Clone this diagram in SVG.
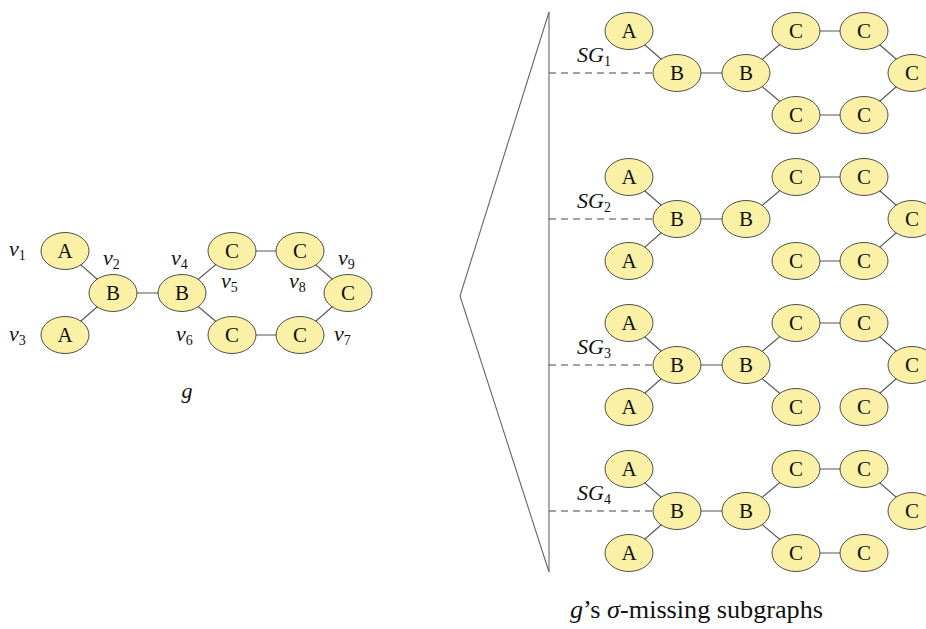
<svg xmlns="http://www.w3.org/2000/svg" width="926" height="629" viewBox="0 0 926 629" font-family="'Liberation Serif', 'Times New Roman', serif">
<style>
.n use{fill:#faf0a6;stroke:#3a3a3a;stroke-width:0.9}
.n text{font-family:'Liberation Serif','Times New Roman',serif;font-size:21px;text-anchor:middle;fill:#111}
.e line{stroke:#555;stroke-width:1.1}
.e line.d{stroke:#444;stroke-width:1.1;stroke-dasharray:7 5}
.fr{fill:none;stroke:#666;stroke-width:1.1}
.lb{font-family:'Liberation Serif','Times New Roman',serif;font-size:22px;font-style:italic;fill:#111}
.sub{font-size:14px;font-style:normal}
.cap{font-family:'Liberation Serif','Times New Roman',serif;font-size:25px;fill:#111}
</style>
<defs>
<ellipse id="el" cx="0" cy="0" rx="24" ry="18.5"/>
</defs>

<!-- frame (zoom triangle) -->
<g id="frame">
<polyline class="fr" points="549,12 460,296 549,572"/>
<line class="fr" x1="549" y1="12" x2="549" y2="572"/>
</g>

<!-- connectors -->
<g id="connectors" class="e">
<!-- left graph g -->
<line x1="65" y1="251" x2="113" y2="293"/>
<line x1="65" y1="335" x2="113" y2="293"/>
<line x1="113" y1="293" x2="182" y2="293"/>
<line x1="182" y1="293" x2="232" y2="251"/>
<line x1="232" y1="251" x2="300" y2="251"/>
<line x1="300" y1="251" x2="348" y2="293"/>
<line x1="348" y1="293" x2="300" y2="335"/>
<line x1="300" y1="335" x2="232" y2="335"/>
<line x1="232" y1="335" x2="182" y2="293"/>
<!-- SG1 -->
<line x1="629" y1="31" x2="677" y2="73"/>
<line x1="677" y1="73" x2="746" y2="73"/>
<line x1="746" y1="73" x2="796" y2="31"/>
<line x1="796" y1="31" x2="864" y2="31"/>
<line x1="864" y1="31" x2="912" y2="73"/>
<line x1="912" y1="73" x2="864" y2="115"/>
<line x1="864" y1="115" x2="796" y2="115"/>
<line x1="796" y1="115" x2="746" y2="73"/>
<!-- SG2 -->
<line x1="629" y1="177" x2="677" y2="219"/>
<line x1="629" y1="261" x2="677" y2="219"/>
<line x1="677" y1="219" x2="746" y2="219"/>
<line x1="746" y1="219" x2="796" y2="177"/>
<line x1="796" y1="177" x2="864" y2="177"/>
<line x1="864" y1="177" x2="912" y2="219"/>
<line x1="912" y1="219" x2="864" y2="261"/>
<line x1="864" y1="261" x2="796" y2="261"/>
<!-- SG3 -->
<line x1="629" y1="323" x2="677" y2="365"/>
<line x1="629" y1="407" x2="677" y2="365"/>
<line x1="677" y1="365" x2="746" y2="365"/>
<line x1="746" y1="365" x2="796" y2="323"/>
<line x1="796" y1="323" x2="864" y2="323"/>
<line x1="864" y1="323" x2="912" y2="365"/>
<line x1="912" y1="365" x2="864" y2="407"/>
<line x1="796" y1="407" x2="746" y2="365"/>
<!-- SG4 -->
<line x1="629" y1="469" x2="677" y2="511"/>
<line x1="629" y1="553" x2="677" y2="511"/>
<line x1="677" y1="511" x2="746" y2="511"/>
<line x1="746" y1="511" x2="796" y2="469"/>
<line x1="796" y1="469" x2="864" y2="469"/>
<line x1="864" y1="469" x2="912" y2="511"/>
<line x1="864" y1="553" x2="796" y2="553"/>
<line x1="796" y1="553" x2="746" y2="511"/>
<!-- dashed pointers -->
<line class="d" x1="549" y1="73" x2="653" y2="73"/>
<line class="d" x1="549" y1="219" x2="653" y2="219"/>
<line class="d" x1="549" y1="365" x2="653" y2="365"/>
<line class="d" x1="549" y1="511" x2="653" y2="511"/>
</g>

<!-- left graph nodes -->
<g id="g-v1" class="n" transform="translate(65,251)"><use href="#el"/><text y="7">A</text></g>
<g id="g-v2" class="n" transform="translate(113,293)"><use href="#el"/><text y="7">B</text></g>
<g id="g-v3" class="n" transform="translate(65,335)"><use href="#el"/><text y="7">A</text></g>
<g id="g-v4" class="n" transform="translate(182,293)"><use href="#el"/><text y="7">B</text></g>
<g id="g-v5" class="n" transform="translate(232,251)"><use href="#el"/><text y="7">C</text></g>
<g id="g-v8" class="n" transform="translate(300,251)"><use href="#el"/><text y="7">C</text></g>
<g id="g-v9" class="n" transform="translate(348,293)"><use href="#el"/><text y="7">C</text></g>
<g id="g-v7" class="n" transform="translate(300,335)"><use href="#el"/><text y="7">C</text></g>
<g id="g-v6" class="n" transform="translate(232,335)"><use href="#el"/><text y="7">C</text></g>

<!-- SG1 nodes -->
<g id="sg1-a1" class="n" transform="translate(629,31)"><use href="#el"/><text y="7">A</text></g>
<g id="sg1-b2" class="n" transform="translate(677,73)"><use href="#el"/><text y="7">B</text></g>
<g id="sg1-b4" class="n" transform="translate(746,73)"><use href="#el"/><text y="7">B</text></g>
<g id="sg1-c5" class="n" transform="translate(796,31)"><use href="#el"/><text y="7">C</text></g>
<g id="sg1-c8" class="n" transform="translate(864,31)"><use href="#el"/><text y="7">C</text></g>
<g id="sg1-c9" class="n" transform="translate(912,73)"><use href="#el"/><text y="7">C</text></g>
<g id="sg1-c7" class="n" transform="translate(864,115)"><use href="#el"/><text y="7">C</text></g>
<g id="sg1-c6" class="n" transform="translate(796,115)"><use href="#el"/><text y="7">C</text></g>

<!-- SG2 nodes -->
<g id="sg2-a1" class="n" transform="translate(629,177)"><use href="#el"/><text y="7">A</text></g>
<g id="sg2-b2" class="n" transform="translate(677,219)"><use href="#el"/><text y="7">B</text></g>
<g id="sg2-a3" class="n" transform="translate(629,261)"><use href="#el"/><text y="7">A</text></g>
<g id="sg2-b4" class="n" transform="translate(746,219)"><use href="#el"/><text y="7">B</text></g>
<g id="sg2-c5" class="n" transform="translate(796,177)"><use href="#el"/><text y="7">C</text></g>
<g id="sg2-c8" class="n" transform="translate(864,177)"><use href="#el"/><text y="7">C</text></g>
<g id="sg2-c9" class="n" transform="translate(912,219)"><use href="#el"/><text y="7">C</text></g>
<g id="sg2-c7" class="n" transform="translate(864,261)"><use href="#el"/><text y="7">C</text></g>
<g id="sg2-c6" class="n" transform="translate(796,261)"><use href="#el"/><text y="7">C</text></g>

<!-- SG3 nodes -->
<g id="sg3-a1" class="n" transform="translate(629,323)"><use href="#el"/><text y="7">A</text></g>
<g id="sg3-b2" class="n" transform="translate(677,365)"><use href="#el"/><text y="7">B</text></g>
<g id="sg3-a3" class="n" transform="translate(629,407)"><use href="#el"/><text y="7">A</text></g>
<g id="sg3-b4" class="n" transform="translate(746,365)"><use href="#el"/><text y="7">B</text></g>
<g id="sg3-c5" class="n" transform="translate(796,323)"><use href="#el"/><text y="7">C</text></g>
<g id="sg3-c8" class="n" transform="translate(864,323)"><use href="#el"/><text y="7">C</text></g>
<g id="sg3-c9" class="n" transform="translate(912,365)"><use href="#el"/><text y="7">C</text></g>
<g id="sg3-c7" class="n" transform="translate(864,407)"><use href="#el"/><text y="7">C</text></g>
<g id="sg3-c6" class="n" transform="translate(796,407)"><use href="#el"/><text y="7">C</text></g>

<!-- SG4 nodes -->
<g id="sg4-a1" class="n" transform="translate(629,469)"><use href="#el"/><text y="7">A</text></g>
<g id="sg4-b2" class="n" transform="translate(677,511)"><use href="#el"/><text y="7">B</text></g>
<g id="sg4-a3" class="n" transform="translate(629,553)"><use href="#el"/><text y="7">A</text></g>
<g id="sg4-b4" class="n" transform="translate(746,511)"><use href="#el"/><text y="7">B</text></g>
<g id="sg4-c5" class="n" transform="translate(796,469)"><use href="#el"/><text y="7">C</text></g>
<g id="sg4-c8" class="n" transform="translate(864,469)"><use href="#el"/><text y="7">C</text></g>
<g id="sg4-c9" class="n" transform="translate(912,511)"><use href="#el"/><text y="7">C</text></g>
<g id="sg4-c7" class="n" transform="translate(864,553)"><use href="#el"/><text y="7">C</text></g>
<g id="sg4-c6" class="n" transform="translate(796,553)"><use href="#el"/><text y="7">C</text></g>

<!-- vertex labels -->
<g id="labels">
<text class="lb" x="9" y="256">v<tspan class="sub" dy="4">1</tspan></text>
<text class="lb" x="103" y="265">v<tspan class="sub" dy="4">2</tspan></text>
<text class="lb" x="9" y="341">v<tspan class="sub" dy="4">3</tspan></text>
<text class="lb" x="171" y="265">v<tspan class="sub" dy="4">4</tspan></text>
<text class="lb" x="221" y="288">v<tspan class="sub" dy="4">5</tspan></text>
<text class="lb" x="289" y="288">v<tspan class="sub" dy="4">8</tspan></text>
<text class="lb" x="338" y="265">v<tspan class="sub" dy="4">9</tspan></text>
<text class="lb" x="176" y="341">v<tspan class="sub" dy="4">6</tspan></text>
<text class="lb" x="334" y="341">v<tspan class="sub" dy="4">7</tspan></text>
<text class="lb" x="187" y="398" text-anchor="middle">g</text>
<text class="lb" x="577" y="62">SG<tspan class="sub" dy="4">1</tspan></text>
<text class="lb" x="577" y="208">SG<tspan class="sub" dy="4">2</tspan></text>
<text class="lb" x="577" y="354">SG<tspan class="sub" dy="4">3</tspan></text>
<text class="lb" x="577" y="500">SG<tspan class="sub" dy="4">4</tspan></text>
<text class="cap" x="570" y="618" textLength="253" lengthAdjust="spacingAndGlyphs"><tspan font-style="italic">g</tspan>’s <tspan font-style="italic">σ</tspan>-missing subgraphs</text>
</g>
</svg>
